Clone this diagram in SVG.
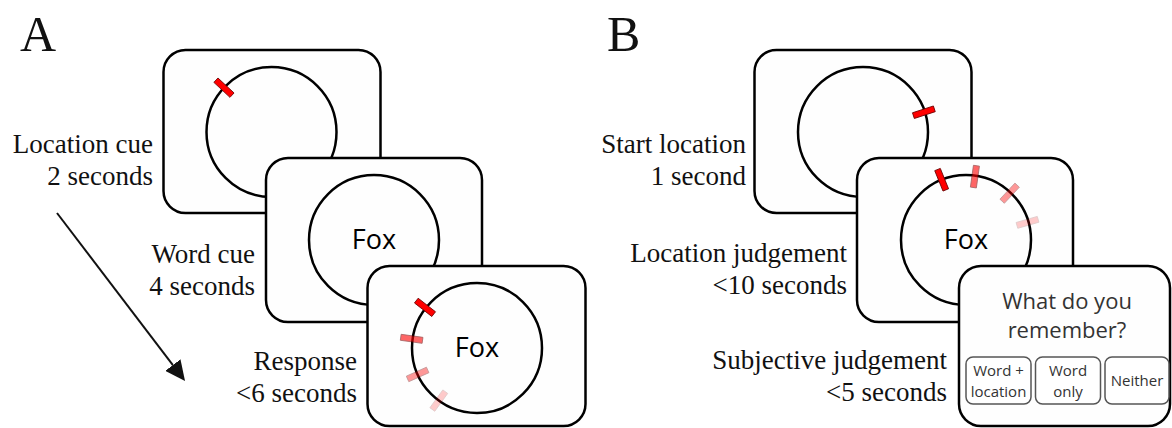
<svg xmlns="http://www.w3.org/2000/svg" width="1172" height="428" viewBox="0 0 1172 428">
<style>
.box{fill:#fefefe;stroke:#000;stroke-width:2.5}
.circ{fill:none;stroke:#000;stroke-width:2.5}
.lab{font-family:"Liberation Serif","Times New Roman",serif;font-size:27px;fill:#111;text-anchor:end}
.big{font-family:"Liberation Serif","Times New Roman",serif;font-size:50px;fill:#111}
.fox{font-family:"Open Sans","Liberation Sans",sans-serif;font-size:27px;fill:#000;text-anchor:middle}
.q{font-family:"Open Sans","Liberation Sans",sans-serif;font-size:22px;fill:#333;text-anchor:middle}
.btn{fill:#fff;stroke:#555;stroke-width:1.5}
.bt{font-family:"Open Sans","Liberation Sans",sans-serif;font-size:15px;fill:#333;text-anchor:middle}
.tick{fill:#ff0000;stroke:#6a0000;stroke-width:0.8}
</style>
<defs>
<rect id="tk" class="tick" x="-11" y="-3" width="22" height="6"/>
<marker id="ah" markerUnits="userSpaceOnUse" markerWidth="20" markerHeight="19" refX="0" refY="9.5" orient="auto">
<path d="M0,0 L20,9.5 L0,19 z" fill="#111"/>
</marker>
</defs>
<rect width="1172" height="428" fill="#fff"/>

<text class="big" x="20" y="51">A</text>
<text class="big" x="607" y="51">B</text>

<g id="a-location-cue">
<rect class="box" x="163.5" y="50" width="217" height="163" rx="22"/>
<circle class="circ" cx="271.5" cy="132" r="65"/>
<use href="#tk" transform="translate(271.5,132) rotate(223) translate(65,0)"/>
<text class="lab" x="153" y="153">Location cue</text>
<text class="lab" x="153" y="185">2 seconds</text>
</g>

<g id="a-word-cue">
<rect class="box" x="266" y="158" width="216" height="164" rx="22"/>
<circle class="circ" cx="374" cy="240" r="65"/>
<text class="fox" x="374" y="249">Fox</text>
<text class="lab" x="255" y="263">Word cue</text>
<text class="lab" x="255" y="295">4 seconds</text>
</g>

<g id="a-response">
<rect class="box" x="367.5" y="266" width="218" height="160" rx="22"/>
<circle class="circ" cx="477" cy="348" r="65"/>
<text class="fox" x="477" y="357">Fox</text>
<use href="#tk" transform="translate(477,348) rotate(218) translate(66,0)"/>
<use href="#tk" opacity="0.6" transform="translate(477,348) rotate(188) translate(66,0)"/>
<use href="#tk" opacity="0.4" transform="translate(477,348) rotate(156) translate(65,0)"/>
<use href="#tk" opacity="0.2" transform="translate(477,348) rotate(126) translate(65,0)"/>
<text class="lab" x="357" y="370">Response</text>
<text class="lab" x="357" y="402">&lt;6 seconds</text>
</g>

<g id="b-start-location">
<rect class="box" x="754.5" y="50" width="217" height="163" rx="22"/>
<circle class="circ" cx="863" cy="132" r="65"/>
<use href="#tk" transform="translate(863,132) rotate(342) translate(64,0)"/>
<text class="lab" x="746" y="153">Start location</text>
<text class="lab" x="746" y="185">1 second</text>
</g>

<g id="b-location-judgement">
<rect class="box" x="857" y="158" width="216" height="164" rx="22"/>
<circle class="circ" cx="966" cy="240" r="65"/>
<text class="fox" x="966" y="249">Fox</text>
<use href="#tk" transform="translate(966,240) rotate(248) translate(65,0)"/>
<use href="#tk" opacity="0.6" transform="translate(966,240) rotate(278) translate(64,0)"/>
<use href="#tk" opacity="0.4" transform="translate(966,240) rotate(313) translate(64,0)"/>
<use href="#tk" opacity="0.2" transform="translate(966,240) rotate(344) translate(64,0)"/>
<text class="lab" x="847" y="262">Location judgement</text>
<text class="lab" x="847" y="294">&lt;10 seconds</text>
</g>

<g id="b-subjective-judgement">
<rect class="box" x="959" y="266" width="211" height="160" rx="22"/>
<text class="q" x="1067" y="309">What do you</text>
<text class="q" x="1067" y="338">remember?</text>
<rect class="btn" x="966" y="357" width="65" height="47" rx="7"/>
<rect class="btn" x="1035.5" y="357" width="65" height="47" rx="7"/>
<rect class="btn" x="1105" y="357" width="64" height="47" rx="7"/>
<text class="bt" x="998.5" y="376">Word +</text>
<text class="bt" x="998.5" y="397">location</text>
<text class="bt" x="1068" y="376">Word</text>
<text class="bt" x="1068" y="397">only</text>
<text class="bt" x="1137" y="386">Neither</text>
<text class="lab" x="947" y="369">Subjective judgement</text>
<text class="lab" x="947" y="401">&lt;5 seconds</text>
</g>

<g id="connectors">
<line x1="57" y1="213" x2="172.9" y2="365.1" stroke="#111" stroke-width="2" marker-end="url(#ah)"/>
</g>
</svg>
